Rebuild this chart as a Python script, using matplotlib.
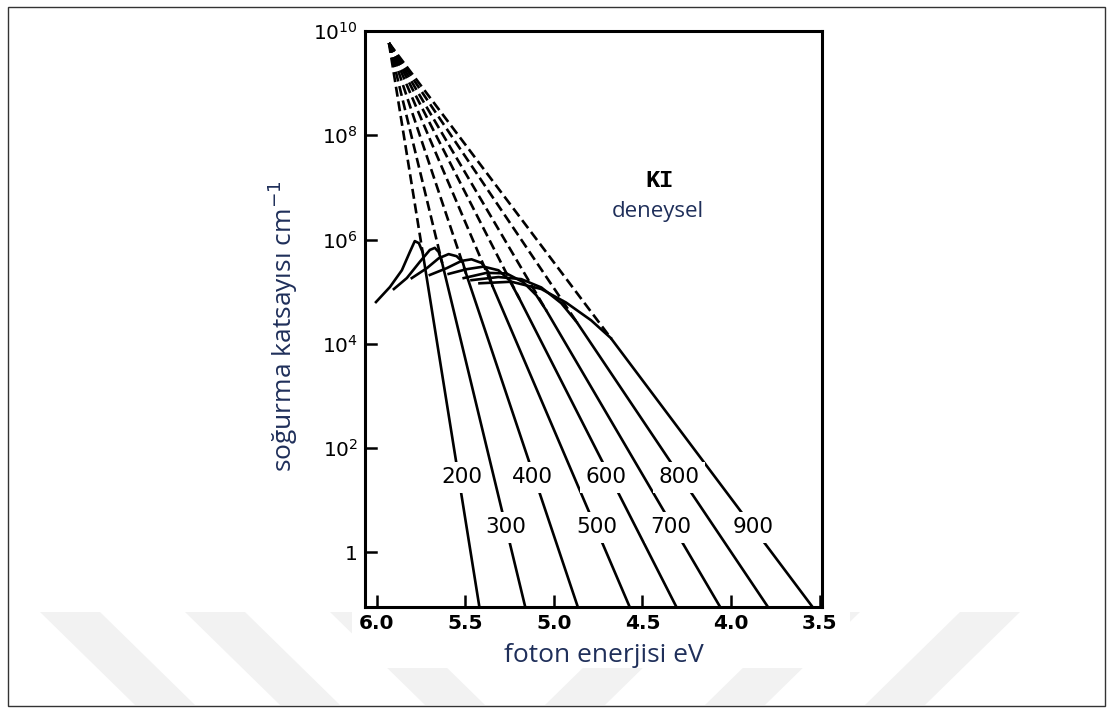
import numpy as np
import matplotlib
matplotlib.use("Agg")
import matplotlib.pyplot as plt
from matplotlib.patches import Polygon, Rectangle

# Urbach-rule absorption edge of KI at several temperatures (K)
temps = [200, 300, 400, 500, 600, 700, 800, 900]

# common convergence (focus) point of the exponential tails
focus_E = 5.931          # eV
focus_logA = 9.77        # log10(alpha / cm^-1)

# photon energy where each tail reaches the bottom of the plot
edge_E = [5.420, 5.161, 4.864, 4.571, 4.307, 4.060, 3.790, 3.538]
edge_logA = -1.06

# measured exciton-peak curves; the last point joins the straight tail
curve_E = {
    200: [6.004, 5.925, 5.858, 5.813, 5.785, 5.762, 5.741],
    300: [5.903, 5.830, 5.757, 5.700, 5.672, 5.650, 5.632],
    400: [5.802, 5.717, 5.650, 5.594, 5.549, 5.515, 5.498],
    500: [5.700, 5.605, 5.521, 5.465, 5.408, 5.369, 5.348],
    600: [5.594, 5.493, 5.397, 5.313, 5.251, 5.197],
    700: [5.509, 5.380, 5.268, 5.172, 5.099, 5.045],
    800: [5.465, 5.313, 5.184, 5.071, 4.959, 4.872],
    900: [5.420, 5.240, 5.071, 4.931, 4.790, 4.679],
}
curve_logA = {
    200: [4.80, 5.09, 5.41, 5.76, 5.97, 5.93, 5.76],
    300: [5.05, 5.26, 5.57, 5.80, 5.84, 5.76, 5.57],
    400: [5.26, 5.45, 5.64, 5.72, 5.68, 5.57, 5.37],
    500: [5.32, 5.45, 5.59, 5.62, 5.55, 5.37, 5.12],
    600: [5.34, 5.43, 5.48, 5.41, 5.22, 4.88],
    700: [5.26, 5.36, 5.35, 5.18, 4.93, 4.65],
    800: [5.22, 5.28, 5.24, 5.08, 4.78, 4.42],
    900: [5.16, 5.19, 5.05, 4.79, 4.45, 4.11],
}

# temperature labels placed on their own tail lines
label_E = [5.521, 5.274, 5.122, 4.757, 4.706, 4.341, 4.296, 3.875]
label_logA = [1.44, 0.48, 1.44, 0.48, 1.44, 0.48, 1.44, 0.48]

x_ticks = [6.0, 5.5, 5.0, 4.5, 4.0, 3.5]
x_ticklabels = ["6.0", "5.5", "5.0", "4.5", "4.0", "3.5"]
y_ticks = [1, 1e2, 1e4, 1e6, 1e8, 1e10]
y_ticklabels = ["1", r"$10^2$", r"$10^4$", r"$10^6$", r"$10^8$", r"$10^{10}$"]

W, H = 1113, 714
fig = plt.figure(figsize=(W / 100, H / 100), dpi=100)
fig.patch.set_facecolor("white")


def fx(px):
    return px / W


def fy(py):
    return 1 - py / H


# faint diagonal background bands
bands = [
    [(40, 612), (100, 612), (195, 705), (135, 705)],
    [(185, 612), (245, 612), (340, 705), (280, 705)],
    [(330, 612), (390, 612), (485, 705), (425, 705)],
    [(545, 705), (605, 705), (700, 612), (640, 612)],
    [(705, 705), (765, 705), (860, 612), (800, 612)],
    [(865, 705), (925, 705), (1020, 612), (960, 612)],
]
for b in bands:
    fig.patches.append(Polygon([(fx(x), fy(y)) for x, y in b], closed=True,
                               transform=fig.transFigure, facecolor="#f2f2f2",
                               edgecolor="none", zorder=0))
# white panel behind the graph
fig.patches.append(Rectangle((fx(352), fy(668)), fx(850) - fx(352), fy(18) - fy(668),
                             transform=fig.transFigure, facecolor="white",
                             edgecolor="none", zorder=0.5))
# outer frame
fig.patches.append(Rectangle((fx(8), fy(706)), fx(1105) - fx(8), fy(7) - fy(706),
                             transform=fig.transFigure, facecolor="none",
                             edgecolor="#333333", linewidth=1.0, zorder=1))

ax = fig.add_axes([fx(365), fy(607), fx(822) - fx(365), fy(31) - fy(607)])
ax.set_zorder(3)
ax.set_facecolor("none")
ax.set_yscale("log")
ax.set_xlim(6.066, 3.487)
ax.set_ylim(10 ** -1.05, 1e10)

lw = 1.9
for i, T in enumerate(temps):
    jE = curve_E[T][-1]
    jA = curve_logA[T][-1]
    # dashed extrapolation to the focus
    ax.plot([focus_E, jE], [10 ** focus_logA, 10 ** jA], color="black", lw=lw,
            dashes=(3.8, 1.8), solid_capstyle="butt", zorder=2)
    # solid exponential tail
    ax.plot([jE, edge_E[i]], [10 ** jA, 10 ** edge_logA], color="black", lw=lw,
            solid_capstyle="butt", zorder=2)
    # measured curve around the exciton peak
    ax.plot(curve_E[T], np.power(10.0, curve_logA[T]), color="black", lw=lw,
            solid_joinstyle="round", zorder=2)

for i, T in enumerate(temps):
    ax.text(label_E[i], 10 ** label_logA[i], str(T), ha="center", va="center",
            fontsize=15.5, color="black", zorder=4,
            bbox=dict(boxstyle="square,pad=0.25", facecolor="white", edgecolor="none"))

for s in ax.spines.values():
    s.set_linewidth(2.2)
    s.set_color("black")

ax.set_xticks(x_ticks)
ax.set_xticklabels(x_ticklabels, fontsize=14.5, fontweight="bold")
ax.set_yticks(y_ticks)
ax.set_yticklabels(y_ticklabels, fontsize=14.5)
ax.yaxis.set_minor_locator(matplotlib.ticker.NullLocator())
ax.tick_params(axis="x", direction="in", length=9, width=1.8, pad=5)
ax.tick_params(axis="y", direction="out", length=0, width=1.8, pad=5)
# y ticks drawn on the inside of the left spine
for yt in y_ticks[:-1]:
    ax.plot([0, 0.024], [yt, yt], transform=ax.get_yaxis_transform(),
            color="black", lw=1.8, clip_on=False, zorder=3)

ax.text(4.403, 10 ** 7.14, "KI", ha="center", va="center", fontsize=17,
        fontweight="bold", family="Liberation Mono", color="black")
ax.text(4.414, 10 ** 6.53, "deneysel", ha="center", va="center", fontsize=16,
        family="Open Sans", color="#1f2f5a")

fig.text(fx(604), fy(655), "foton enerjisi eV", ha="center", va="center",
         fontsize=19, family="Open Sans", color="#1f2f5a")
fig.text(fx(283), fy(326), "soğurma katsayısı cm$^{-1}$", ha="center", va="center",
         rotation=90, fontsize=19, family="Open Sans", color="#1f2f5a")

fig.savefig("out.png", dpi=100, facecolor="white")
